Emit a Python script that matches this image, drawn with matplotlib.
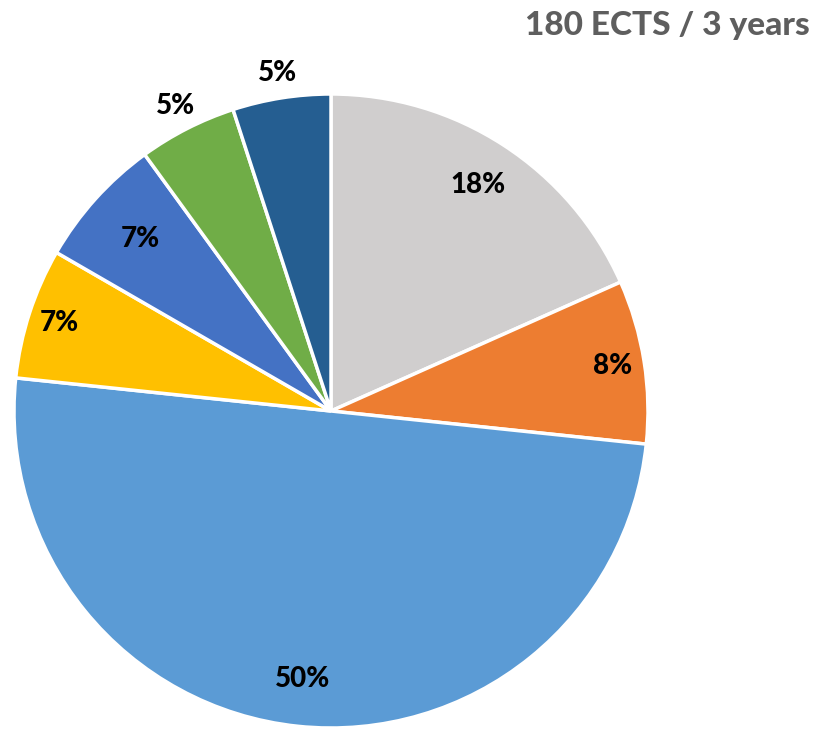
import matplotlib
matplotlib.use("Agg")
import matplotlib.pyplot as plt
import numpy as np

title = "180 ECTS / 3 years"
ects = [33, 15, 90, 12, 12, 9, 9]
colors = ["#D0CECE", "#ED7D31", "#5B9BD5", "#FFC000", "#4472C4", "#70AD47", "#255E91"]
label_dist = [0.85, 0.9, 0.85, 0.9, 0.81, 1.08, 1.08]

plt.rcParams['font.family'] = ['Lato', 'DejaVu Sans']

fig = plt.figure(figsize=(8.17, 7.30), dpi=100)
ax = fig.add_axes([14/817, 2/730, 634/817, 634/730])

wedges, _ = ax.pie(ects, colors=colors, startangle=90, counterclock=False, radius=1,
                   wedgeprops=dict(edgecolor="white", linewidth=2.5))
total = sum(ects)
theta = 90.0
for v, d in zip(ects, label_dist):
    span = 360.0 * v / total
    mid = np.deg2rad(theta - span / 2)
    theta -= span
    ax.text(d * np.cos(mid), d * np.sin(mid), f"{100*v/total:.0f}%", ha="center", va="center",
            fontsize=20, fontweight="black", color="black", clip_on=False)
ax.set_xlim(-1, 1)
ax.set_ylim(-1, 1)
ax.set_aspect("equal")
ax.axis("off")

fig.text(810/817, 1 - 25/730, title, ha="right", va="center", fontsize=24,
         fontweight="black", color="#5E5E5E")

fig.savefig("out.png", dpi=100)
